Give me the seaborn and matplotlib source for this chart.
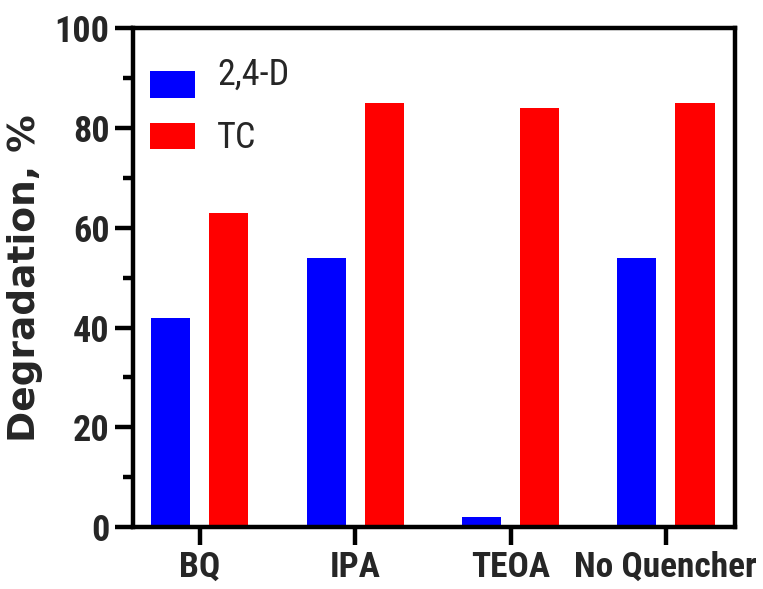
import matplotlib
matplotlib.use("Agg")
import matplotlib.pyplot as plt
from matplotlib.ticker import MultipleLocator
import pandas as pd
import seaborn as sns

# Scavenger experiment: degradation of each pollutant under different quenchers
quenchers = ["BQ", "IPA", "TEOA", "No Quencher"]
deg_24d = [42, 54, 2, 54]
deg_tc = [63, 85, 84, 85]
series_names = ["2,4-D", "TC"]
series_colors = ["#0000FF", "#FF0000"]
y_ticks = [0, 20, 40, 60, 80, 100]

df = pd.DataFrame({
    "Quencher": quenchers * 2,
    "Degradation": deg_24d + deg_tc,
    "Pollutant": [series_names[0]] * len(quenchers) + [series_names[1]] * len(quenchers),
})

sns.set_theme(style="ticks")
narrow = ["Roboto Condensed", "Liberation Sans", "DejaVu Sans"]
plt.rcParams["font.family"] = narrow

fig = plt.figure(figsize=(7.63, 5.89), dpi=100)
ax = fig.add_axes([0.1743, 0.105, 0.789, 0.847])

sns.barplot(
    data=df, x="Quencher", y="Degradation", hue="Pollutant",
    order=quenchers, hue_order=series_names,
    palette=series_colors, width=0.75, gap=0.33,
    saturation=1, linewidth=0, ax=ax,
)

ax.set_ylim(0, 100)
ax.set_xlim(-0.43, 3.445)
ax.set_yticks(y_ticks)
ax.yaxis.set_minor_locator(MultipleLocator(10))

lw = 3.2
for side in ["left", "bottom", "top", "right"]:
    ax.spines[side].set_visible(True)
    ax.spines[side].set_linewidth(lw)
    ax.spines[side].set_color("black")

ax.tick_params(axis="both", which="major", direction="out", length=13, width=lw,
               color="black", labelsize=26, pad=4)
ax.tick_params(axis="y", which="minor", direction="out", length=7, width=lw, color="black")
ax.tick_params(axis="x", which="major", labelsize=25.5, pad=4)
ax.tick_params(top=False, right=False, which="both")
for lab in ax.get_xticklabels() + ax.get_yticklabels():
    lab.set_fontweight("bold")

ax.set_xlabel("")
ax.set_ylabel("Degradation, %", fontsize=27, fontweight="bold", family="DejaVu Sans", labelpad=8)

handles, labels = ax.get_legend_handles_labels()
leg = ax.legend(handles, labels, loc="upper left", frameon=False, fontsize=26,
                handlelength=1.22, handleheight=0.75, handletextpad=0.62,
                labelspacing=0.42, borderaxespad=0.0, bbox_to_anchor=(0.005, 0.947))
# the first legend label sits a little above its swatch
leg.get_texts()[0].set_y(12)

fig.savefig("out.png", dpi=100)
